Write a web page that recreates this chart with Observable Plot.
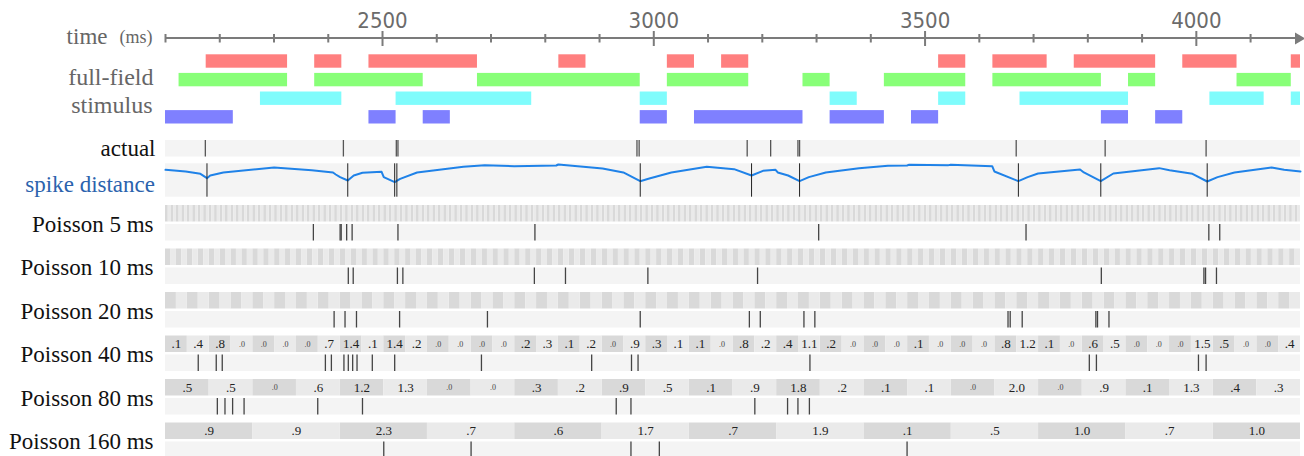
<!DOCTYPE html>
<html>
<head>
<meta charset="utf-8">
<script src="https://cdn.jsdelivr.net/npm/d3@7"></script>
<script src="https://cdn.jsdelivr.net/npm/@observablehq/plot@0.6"></script>
<style>
  html, body { margin: 0; padding: 0; background: #fff; }
  #chart { width: 1304px; }
  #chart svg { display: block; }
</style>
</head>
<body>
<div id="chart"></div>
<script>
// ---------------- data ----------------
const majorTicks = [2500, 3000, 3500, 4000];
const minorTicks = [2100, 2200, 2300, 2400, 2600, 2700, 2800, 2900, 3100, 3200, 3300, 3400, 3600, 3700, 3800, 3900, 4100];

const stimRows = ["red", "green", "cyan", "blue"];
const redOn = [[2175, 2325], [2375, 2425], [2475, 2675], [2825, 2875], [3025, 3075], [3125, 3175], [3525, 3575], [3625, 3725], [3775, 3925], [3975, 4075], [4175, 4225]];
const greenOn = [[2125, 2325], [2375, 2575], [2675, 2975], [3025, 3175], [3275, 3325], [3425, 3575], [3625, 3825], [3875, 3925], [4075, 4175]];
const cyanOn = [[2275, 2425], [2525, 2775], [2975, 3025], [3325, 3375], [3525, 3575], [3675, 3875], [4025, 4125], [4175, 4225]];
const blueOn = [[2075, 2225], [2475, 2525], [2575, 2625], [2975, 3025], [3075, 3275], [3325, 3425], [3475, 3525], [3825, 3875], [3925, 3975]];

const actualSpikes = [2173, 2426, 2523, 2526, 2964, 2968, 3166, 3209, 3259, 3262, 3659, 3822, 4007];
const sdSpikes = [2176, 2434, 2520, 2524, 2970, 3174, 3262, 3663, 3814, 4009];
const sdCurve = [
  [2100, 0.82], [2137, 0.77], [2164, 0.70], [2176, 0.57], [2182, 0.65], [2206, 0.74], [2299, 0.89], [2368, 0.81],
  [2407, 0.74], [2412, 0.68], [2420, 0.60], [2434, 0.50], [2445, 0.65], [2461, 0.73], [2496, 0.76], [2500, 0.60],
  [2520, 0.45], [2530, 0.55], [2561, 0.74], [2646, 0.91], [2685, 0.96], [2739, 0.93], [2816, 0.95], [2820, 0.98],
  [2901, 0.86], [2939, 0.74], [2970, 0.48], [2985, 0.55], [3027, 0.74], [3092, 0.91], [3142, 0.84], [3174, 0.65],
  [3195, 0.79], [3218, 0.82], [3222, 0.74], [3241, 0.65], [3262, 0.48], [3279, 0.60], [3310, 0.74], [3371, 0.87],
  [3424, 0.94], [3459, 0.95], [3462, 0.97], [3535, 0.96], [3539, 0.97], [3615, 0.93], [3619, 0.77], [3663, 0.48],
  [3680, 0.60], [3699, 0.71], [3776, 0.83], [3783, 0.74], [3814, 0.48], [3837, 0.71], [3921, 0.87], [3940, 0.81],
  [3982, 0.70], [4009, 0.47], [4028, 0.60], [4059, 0.74], [4127, 0.89], [4150, 0.82], [4180, 0.77]
];

const poissonRows = ["Poisson 5 ms", "Poisson 10 ms", "Poisson 20 ms", "Poisson 40 ms", "Poisson 80 ms", "Poisson 160 ms"];
const poissonBins = [5, 10, 20, 40, 80, 160];
const p5 = [2371, 2420, 2422, 2432, 2442, 2526, 2777, 3297, 3677, 4012, 4032];
const p10 = [2435, 2444, 2525, 2535, 2776, 2833, 2984, 3185, 3815, 4003, 4006, 4026];
const p20 = [2409, 2429, 2450, 2529, 2690, 2970, 3170, 3190, 3270, 3290, 3644, 3648, 3670, 3805, 3808, 3829];
const p40 = [2160, 2193, 2204, 2393, 2404, 2427, 2435, 2443, 2451, 2479, 2520, 2679, 2881, 2954, 2966, 3281, 3793, 3806, 3993, 4007];
const p80 = [2195, 2209, 2223, 2244, 2379, 2461, 2926, 2953, 3180, 3240, 3259, 3280];
const p160 = [2500, 2660, 2953, 3005, 3459];
const p40Labels = [".1", ".4", ".8", ".0", ".0", ".0", ".0", ".7", "1.4", ".1", "1.4", ".2",
  ".0", ".0", ".0", ".0", ".2", ".3", ".1", ".2", ".0", ".9", ".3", ".1", ".1", ".0", ".8", ".2", ".4", "1.1", ".2", ".0",
  ".0", ".0", ".1", ".0", ".0", ".0", ".8", "1.2", ".1", ".0", ".6", ".5", ".0", ".0", ".0", "1.5", ".5", ".0", ".0", ".4"];
const p80Labels = [".5", ".5", ".0", ".6", "1.2", "1.3", ".0", ".0", ".3", ".2", ".9", ".5", ".1", ".9", "1.8", ".2",
  ".1", ".1", ".0", "2.0", ".0", ".9", ".1", "1.3", ".4", ".3"];
const p160Labels = [".9", ".9", "2.3", ".7", ".6", "1.7", ".7", "1.9", ".1", ".5", "1.0", ".7", "1.0"];

// ---------------- layout & style ----------------
const W = 1304, ML = 165, MR = 4;
const topDomain = [2100, 4192];
const rowDomain = [2100, 4180];
const serif = "'Liberation Serif', 'Times New Roman', serif";
const narrow = "'Liberation Sans Narrow', 'DejaVu Sans Condensed', Roboto, sans-serif";
const axisGray = "#7b7b7b";
const labelGray = "#666";
const stimColors = {red: "#ff7f7f", green: "#88ff78", cyan: "#7ffcfc", blue: "#7f80ff"};
const stimData = {red: redOn, green: greenOn, cyan: cyanOn, blue: blueOn};
const darkCell = "#d9d9d9", lightCell = "#eaeaea", rowBg = "#f4f4f4";
const spikeColor = "#444";

const chart = document.getElementById("chart");

// ---------------- top: time axis + stimulus ----------------
const H1 = 130, axisY = 38;
const topPlot = Plot.plot({
  width: W, height: H1, marginLeft: ML, marginRight: MR, marginTop: axisY, marginBottom: 0,
  x: {domain: topDomain, axis: null},
  y: {type: "band", domain: stimRows, range: [54.3, 123.5], paddingInner: 0.28, paddingOuter: 0, round: false, axis: null},
  marks: [
    ...stimRows.map(key => Plot.rect(stimData[key], {
      x1: d => d[0], x2: d => d[1], y: () => key, fill: stimColors[key], clip: true
    })),
    Plot.rect([topDomain], {x1: d => d[0], x2: d => d[1], insetTop: -1, insetBottom: H1 - axisY - 1, fill: axisGray}),
    Plot.ruleX(minorTicks, {x: d => d, stroke: axisGray, strokeWidth: 2, insetTop: -4, insetBottom: H1 - axisY - 4.5}),
    Plot.ruleX(majorTicks, {x: d => d, stroke: axisGray, strokeWidth: 2, insetTop: -7, insetBottom: H1 - axisY - 8}),
    Plot.dot([topDomain[1]], {x: d => d, frameAnchor: "top", symbol: "triangle", rotate: 90, r: 4.5, dx: -2, fill: axisGray, stroke: "none"}),
    Plot.text(majorTicks, {x: d => d, frameAnchor: "top", lineAnchor: "middle", dy: -18, text: d => String(d), fontFamily: narrow, fontSize: 22, fill: "#6b6b6b"}),
    Plot.text(["time"], {frameAnchor: "top-left", lineAnchor: "middle", dx: -58, dy: -1.5, textAnchor: "end", text: d => d, fontFamily: serif, fontSize: 23, fill: labelGray}),
    Plot.text(["(ms)"], {frameAnchor: "top-left", lineAnchor: "middle", dx: -13, dy: -1, textAnchor: "end", text: d => d, fontFamily: serif, fontSize: 18, fill: labelGray}),
    Plot.text(["full-field"], {y: () => "green", frameAnchor: "left", lineAnchor: "middle", dx: -12, dy: -3, textAnchor: "end", text: d => d, fontFamily: serif, fontSize: 24, fill: labelGray}),
    Plot.text(["stimulus"], {y: () => "cyan", frameAnchor: "left", lineAnchor: "middle", dx: -13, dy: 7, textAnchor: "end", text: d => d, fontFamily: serif, fontSize: 24, fill: labelGray})
  ]
});
chart.appendChild(topPlot);

// ---------------- actual spikes ----------------
const actualPlot = Plot.plot({
  width: W, height: 30, marginLeft: ML, marginRight: MR, marginTop: 10, marginBottom: 3.5,
  x: {domain: rowDomain, axis: null},
  marks: [
    Plot.rect([rowDomain], {x1: d => d[0], x2: d => d[1], fill: rowBg}),
    Plot.ruleX(actualSpikes, {x: d => d, stroke: "#555", strokeWidth: 1.3}),
    Plot.text(["actual"], {frameAnchor: "left", lineAnchor: "middle", dx: -10, textAnchor: "end", text: d => d, fontFamily: serif, fontSize: 23, fill: "#111"})
  ]
});
chart.appendChild(actualPlot);

// ---------------- spike distance ----------------
const sdPlot = Plot.plot({
  width: W, height: 40, marginLeft: ML, marginRight: MR, marginTop: 3.3, marginBottom: 3.3,
  x: {domain: rowDomain, axis: null},
  y: {domain: [0, 1], axis: null},
  marks: [
    Plot.rect([rowDomain], {x1: d => d[0], x2: d => d[1], fill: rowBg}),
    Plot.line(sdCurve, {x: d => d[0], y: d => d[1], stroke: "#1f82e8", strokeWidth: 2}),
    Plot.ruleX(sdSpikes, {x: d => d, stroke: "#222", strokeWidth: 1}),
    Plot.text(["spike distance"], {frameAnchor: "left", lineAnchor: "middle", dx: -10.5, dy: 4, textAnchor: "end", text: d => d, fontFamily: serif, fontSize: 23, fill: "#2b63ad"})
  ]
});
chart.appendChild(sdPlot);

// ---------------- Poisson rows ----------------
const labelSets = [null, null, null, p40Labels, p80Labels, p160Labels];
const spikeSets = [p5, p10, p20, p40, p80, p160];
const cells = poissonRows.flatMap((name, k) => {
  const bin = poissonBins[k];
  return d3.range(rowDomain[0], rowDomain[1], bin).map((t0, i) => ({
    name, t0, t1: Math.min(t0 + bin, rowDomain[1]), i, label: labelSets[k] ? labelSets[k][i] : null
  }));
});
const spikes = poissonRows.flatMap((name, k) => spikeSets[k].map(t => ({name, t})));
const gap = 19; // offset of spike row below the cell row inside each band

const poissonPlot = Plot.plot({
  width: W, height: 256, marginLeft: ML, marginRight: MR, marginTop: 0, marginBottom: 0,
  x: {domain: rowDomain, axis: null},
  y: {type: "band", domain: poissonRows, range: [5, 258], paddingInner: 8 / 43.5, paddingOuter: 0, round: false, axis: null},
  marks: [
    Plot.rect(cells.filter(d => d.i % 2 === 0), {x1: "t0", x2: "t1", y: "name", insetBottom: gap, fill: darkCell}),
    Plot.rect(cells.filter(d => d.i % 2 === 1), {x1: "t0", x2: "t1", y: "name", insetBottom: gap, fill: lightCell}),
    Plot.rect(poissonRows, {x1: () => rowDomain[0], x2: () => rowDomain[1], y: d => d, insetTop: gap, fill: rowBg}),
    Plot.tickX(spikes, {x: "t", y: "name", insetTop: gap, stroke: spikeColor, strokeWidth: 1.3}),
    Plot.text(cells.filter(d => d.label && d.label !== ".0"), {
      x: d => (d.t0 + d.t1) / 2, y: "name", dy: -9.5, text: "label", fontFamily: serif, fontSize: 13, fill: "#222"
    }),
    Plot.text(cells.filter(d => d.label === ".0"), {
      x: d => (d.t0 + d.t1) / 2, y: "name", dy: -9.5, text: "label", fontFamily: serif, fontSize: 8, fill: "#444"
    }),
    Plot.text(poissonRows, {y: d => d, frameAnchor: "left", lineAnchor: "middle", dx: -12, dy: 1, textAnchor: "end", text: d => d, fontFamily: serif, fontSize: 23, fill: "#111"})
  ]
});
chart.appendChild(poissonPlot);
</script>
</body>
</html>
